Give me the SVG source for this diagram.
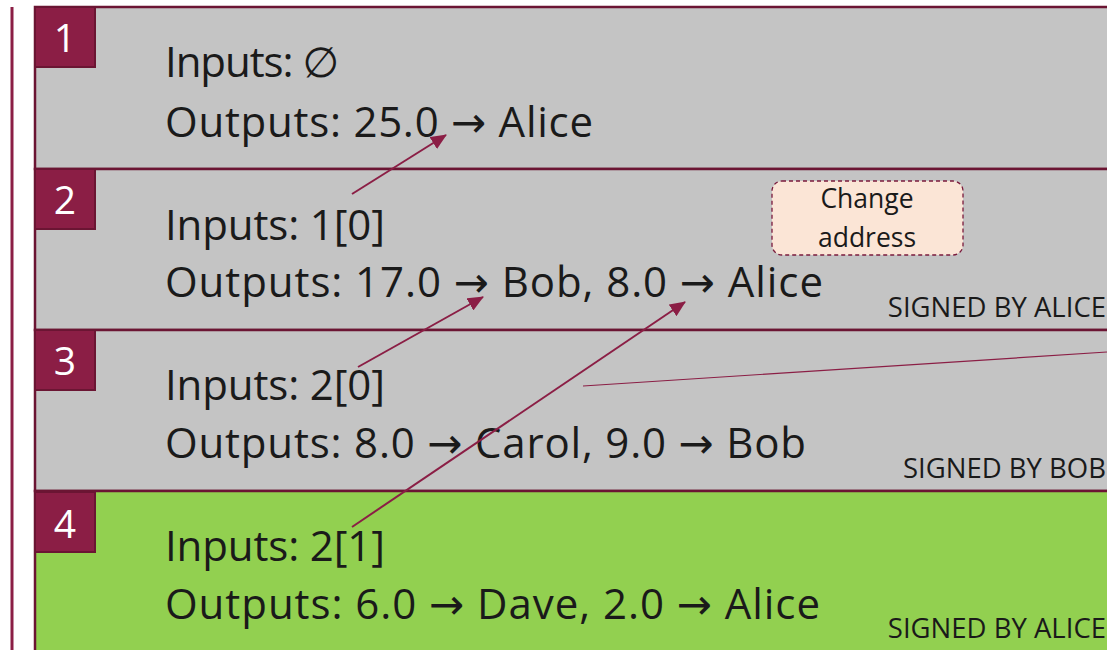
<svg xmlns="http://www.w3.org/2000/svg" width="1107" height="650" viewBox="0 0 1107 650">
<style>
.row{stroke:#6B1533;stroke-width:2.5}
.gray{fill:#C4C4C4}
.green{fill:#92D050}
.num{fill:#8B1E45;stroke:#6B1533;stroke-width:2}
.numt{font-family:"Open Sans","Noto Sans",sans-serif;font-size:39px;fill:#fff;text-anchor:middle}
.t{font-family:"Open Sans","Noto Sans","DejaVu Sans",sans-serif;font-size:42px;fill:#1a1a1a}
.sig{font-family:"Open Sans","Noto Sans",sans-serif;font-size:27.5px;fill:#1a1a1a;text-anchor:end}
.ca{font-family:"Open Sans","Noto Sans",sans-serif;font-size:26.5px;fill:#1a1a1a;text-anchor:middle}
.conn{stroke:#8B1E45;stroke-width:2;fill:none}
</style>
<defs>
<marker id="ah2" viewBox="0 0 16 14" refX="15" refY="7" markerWidth="16" markerHeight="14" orient="auto" markerUnits="userSpaceOnUse">
<path d="M0,0 L16,7 L0,14 z" fill="#8B1E45"/>
</marker>
</defs>
<rect width="1107" height="650" fill="#fff"/>
<line x1="12" y1="7" x2="12" y2="650" stroke="#8B1E45" stroke-width="3"/>

<g id="tx1">
<rect class="row gray" x="35" y="7" width="1090" height="162"/>
<rect class="num" x="35" y="7" width="60" height="60"/>
<text class="numt" x="65" y="52">1</text>
<text class="t" x="165" y="77" textLength="174">Inputs: ∅</text>
<text class="t" x="165" y="137" textLength="428">Outputs: 25.0 → Alice</text>
</g>

<g id="tx2">
<rect class="row gray" x="35" y="169" width="1090" height="161"/>
<rect class="num" x="35" y="169" width="60" height="60"/>
<text class="numt" x="65" y="214">2</text>
<text class="t" x="165" y="240" textLength="220">Inputs: 1[0]</text>
<text class="t" x="165" y="297" textLength="658">Outputs: 17.0 → Bob, 8.0 → Alice</text>
<text class="sig" x="1106" y="317">SIGNED BY ALICE</text>
</g>

<g id="tx3">
<rect class="row gray" x="35" y="330" width="1090" height="161"/>
<rect class="num" x="35" y="330" width="60" height="60"/>
<text class="numt" x="65" y="375">3</text>
<text class="t" x="165" y="400" textLength="220">Inputs: 2[0]</text>
<text class="t" x="165" y="458" textLength="641">Outputs: 8.0 → Carol, 9.0 → Bob</text>
<text class="sig" x="1106" y="478">SIGNED BY BOB</text>
</g>

<g id="tx4">
<rect class="row green" x="35" y="491" width="1090" height="200"/>
<rect class="num" x="35" y="492" width="60" height="60"/>
<text class="numt" x="65" y="538">4</text>
<text class="t" x="165" y="561" textLength="220">Inputs: 2[1]</text>
<text class="t" x="165" y="619" textLength="655">Outputs: 6.0 → Dave, 2.0 → Alice</text>
<text class="sig" x="1106" y="638">SIGNED BY ALICE</text>
</g>

<g id="change-address">
<rect x="772" y="181" width="191" height="74" rx="10" fill="#FBE5D6" stroke="#7A1A3C" stroke-width="1.3" stroke-dasharray="4,3"/>
<text class="ca" x="867" y="208">Change</text>
<text class="ca" x="867" y="247">address</text>
</g>

<g id="connectors">
<line class="conn" x1="352" y1="194" x2="446" y2="135" marker-end="url(#ah2)"/>
<line class="conn" x1="358" y1="367" x2="483" y2="297" marker-end="url(#ah2)"/>
<line class="conn" x1="352" y1="527" x2="685" y2="302" marker-end="url(#ah2)"/>
<line x1="583" y1="386" x2="1107" y2="352" stroke="#8B1E45" stroke-width="1.2"/>
</g>
</svg>
